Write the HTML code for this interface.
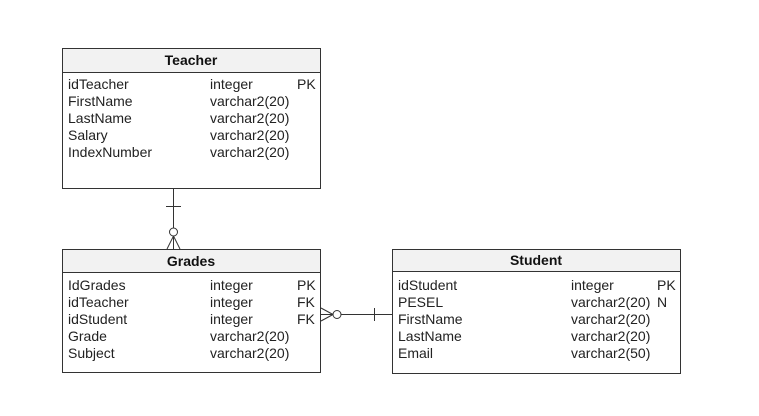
<!DOCTYPE html>
<html><head><style>
body{margin:0;background:#fff;width:759px;height:411px;overflow:hidden}
svg text{font-family:"Liberation Sans",Arial,sans-serif;font-size:14px;fill:#222}
.h{font-weight:bold;font-size:14px;fill:#111}
</style></head><body>
<svg width="759" height="411" xmlns="http://www.w3.org/2000/svg">
<g stroke="#333" stroke-width="1" fill="none">
<rect x="62.5" y="48.5" width="258" height="140" fill="#fff"/>
<rect x="62.5" y="48.5" width="258" height="24" fill="#f2f2f2"/>
<rect x="62.5" y="249.5" width="258" height="123" fill="#fff"/>
<rect x="62.5" y="249.5" width="258" height="23" fill="#f2f2f2"/>
<rect x="392.5" y="249.5" width="288" height="124" fill="#fff"/>
<rect x="392.5" y="249.5" width="288" height="22" fill="#f2f2f2"/>
<line x1="173.5" y1="188.5" x2="173.5" y2="228"/>
<line x1="166" y1="206.5" x2="181" y2="206.5"/>
<circle cx="173.5" cy="232" r="4" fill="#fff"/>
<line x1="173.5" y1="236" x2="173.5" y2="249"/>
<line x1="173.5" y1="236" x2="167" y2="249"/>
<line x1="173.5" y1="236" x2="180" y2="249"/>
<line x1="341" y1="314.5" x2="392" y2="314.5"/>
<line x1="374.5" y1="308" x2="374.5" y2="321"/>
<circle cx="337" cy="314.5" r="4" fill="#fff"/>
<line x1="321" y1="314.5" x2="333" y2="314.5"/>
<line x1="321" y1="308" x2="333" y2="314.5"/>
<line x1="321" y1="321" x2="333" y2="314.5"/>
</g>
<text class="h" x="191" y="65" text-anchor="middle">Teacher</text>
<text x="68" y="89">idTeacher</text><text x="210" y="89">integer</text><text x="297" y="89">PK</text>
<text x="68" y="106">FirstName</text><text x="210" y="106">varchar2(20)</text>
<text x="68" y="123">LastName</text><text x="210" y="123">varchar2(20)</text>
<text x="68" y="140">Salary</text><text x="210" y="140">varchar2(20)</text>
<text x="68" y="157">IndexNumber</text><text x="210" y="157">varchar2(20)</text>
<text class="h" x="191" y="266" text-anchor="middle">Grades</text>
<text x="68" y="290">IdGrades</text><text x="210" y="290">integer</text><text x="297" y="290">PK</text>
<text x="68" y="307">idTeacher</text><text x="210" y="307">integer</text><text x="297" y="307">FK</text>
<text x="68" y="324">idStudent</text><text x="210" y="324">integer</text><text x="297" y="324">FK</text>
<text x="68" y="341">Grade</text><text x="210" y="341">varchar2(20)</text>
<text x="68" y="358">Subject</text><text x="210" y="358">varchar2(20)</text>
<text class="h" x="536" y="265" text-anchor="middle">Student</text>
<text x="398" y="290">idStudent</text><text x="571" y="290">integer</text><text x="657" y="290">PK</text>
<text x="398" y="307">PESEL</text><text x="571" y="307">varchar2(20)</text><text x="657" y="307">N</text>
<text x="398" y="324">FirstName</text><text x="571" y="324">varchar2(20)</text>
<text x="398" y="341">LastName</text><text x="571" y="341">varchar2(20)</text>
<text x="398" y="358">Email</text><text x="571" y="358">varchar2(50)</text>
</svg>
</body></html>
